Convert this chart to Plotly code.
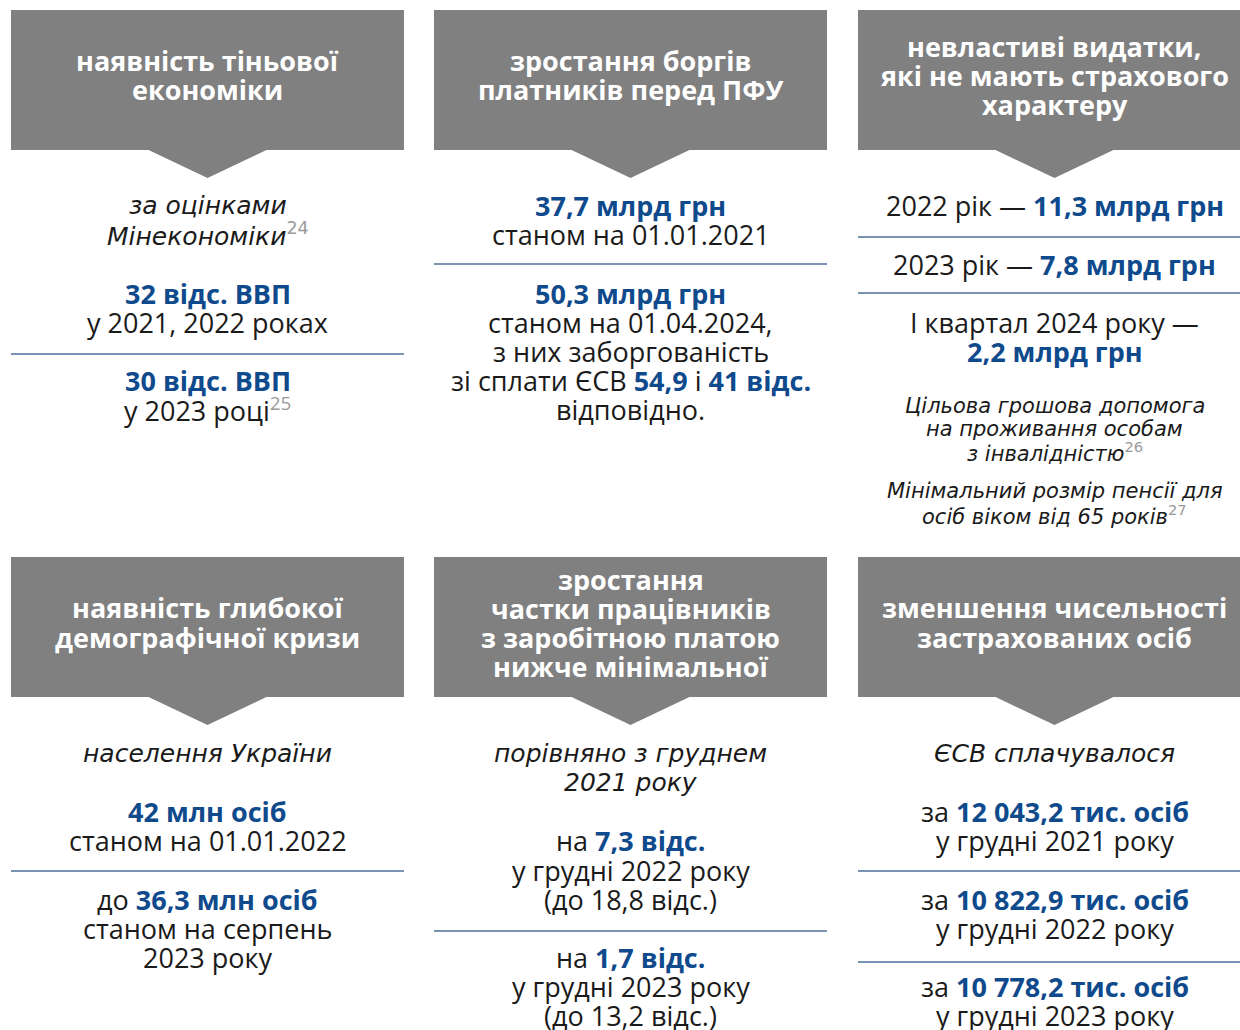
import plotly.graph_objects as go

W, H = 1240, 1030
GRAY = "#808080"
BLUE = "#0f4a8c"
LINE = "#4d6f9c"
TXT = "#1a1a1a"
FONT = "Open Sans"
IFONT = "DejaVu Sans"

# ---- content ----
header_titles = [
    ["наявність тіньової", "економіки"],
    ["зростання боргів", "платників перед ПФУ"],
    ["невластиві видатки,", "які не мають страхового", "характеру"],
    ["наявність глибокої", "демографічної кризи"],
    ["зростання", "частки працівників", "з заробітною платою", "нижче мінімальної"],
    ["зменшення чисельності", "застрахованих осіб"],
]

def B(s):
    return f"<b><span style='color:{BLUE}'>{s}</span></b>"

def I(s):
    return f"<i>{s}</i>"

def SUP(n):
    return f"<sup><span style='color:#9a9a9a'>{n}</span></sup>"

panel_text = [
    [I("за оцінками"), I("Мінекономіки") + SUP("24"), B("32 відс. ВВП"), "у 2021, 2022 роках",
     B("30 відс. ВВП"), "у 2023 році" + SUP("25")],
    [B("37,7 млрд грн"), "станом на 01.01.2021", B("50,3 млрд грн"), "станом на 01.04.2024,",
     "з них заборгованість", "зі сплати ЄСВ " + B("54,9") + " і " + B("41 відс."), "відповідно."],
    ["2022 рік — " + B("11,3 млрд грн"), "2023 рік — " + B("7,8 млрд грн"),
     "І квартал 2024 року —", B("2,2 млрд грн")],
    [I("населення України"), B("42 млн осіб"), "станом на 01.01.2022", "до " + B("36,3 млн осіб"),
     "станом на серпень", "2023 року"],
    [I("порівняно з груднем"), I("2021 року"), "на " + B("7,3 відс."), "у грудні 2022 року",
     "(до 18,8 відс.)", "на " + B("1,7 відс."), "у грудні 2023 року", "(до 13,2 відс.)"],
    [I("ЄСВ сплачувалося"), "за " + B("12 043,2 тис. осіб"), "у грудні 2021 року",
     "за " + B("10 822,9 тис. осіб"), "у грудні 2022 року", "за " + B("10 778,2 тис. осіб"),
     "у грудні 2023 року"],
]

note_text = [
    [I("Цільова грошова допомога"), I("на проживання особам"), I("з інвалідністю") + SUP("26")],
    [I("Мінімальний розмір пенсії для"), I("осіб віком від 65 років") + SUP("27")],
]

# ---- layout ----
col_left = [11, 434, 858]
col_width = 393
row_box = [(10, 150), (557, 697)]
tri_half, tri_depth = 60, 28
header_y = [
    [60, 89], [60, 89], [46, 75, 104],
    [607, 637], [579, 608, 637, 666], [607, 637],
]
panel_y = [
    [205, 234, 293, 322, 380, 409],
    [205, 234, 293, 322, 351, 380, 409],
    [205, 264, 322, 351],
    [753, 811, 840, 899, 928, 957],
    [753, 782, 840, 870, 899, 957, 986, 1015],
    [753, 811, 840, 899, 928, 986, 1015],
]
sep_y = [[354], [264], [237, 293], [871], [931], [871, 962]]
note_y = [[406, 429, 452], [491, 515]]

fig = go.Figure()
fig.add_trace(go.Scatter(x=[0, W], y=[0, H], mode="markers", marker=dict(opacity=0), hoverinfo="skip"))

shapes, ann = [], []
for p in range(6):
    c, r = p % 3, p // 3
    x0 = col_left[c]
    x1 = x0 + col_width
    cx = (x0 + x1) / 2
    y0, y1 = row_box[r]
    shapes.append(dict(type="rect", x0=x0, x1=x1, y0=y0, y1=y1, fillcolor=GRAY, line=dict(width=0), layer="below"))
    shapes.append(dict(type="path",
                       path=f"M {cx - tri_half},{y1 - 0.5} L {cx + tri_half},{y1 - 0.5} L {cx},{y1 + tri_depth} Z",
                       fillcolor=GRAY, line=dict(width=0), layer="below"))
    for t, y in zip(header_titles[p], header_y[p]):
        ann.append(dict(x=cx, y=y, text=f"<b>{t}</b>", font=dict(family=FONT, size=27, color="white")))
    for t, y in zip(panel_text[p], panel_y[p]):
        if t.startswith("<i>"):
            f = dict(family=IFONT, size=25, color=TXT)
        else:
            f = dict(family=FONT, size=27, color=TXT)
        ann.append(dict(x=cx, y=y, text=t, font=f))
    for y in sep_y[p]:
        shapes.append(dict(type="line", x0=x0, x1=x1, y0=y, y1=y, line=dict(color=LINE, width=1.5)))

cx3 = col_left[2] + col_width / 2
for block, ys in zip(note_text, note_y):
    for t, y in zip(block, ys):
        ann.append(dict(x=cx3, y=y, text=t, font=dict(family=IFONT, size=21, color=TXT)))

for a in ann:
    a.update(xref="x", yref="y", showarrow=False, xanchor="center", yanchor="middle")

fig.update_layout(
    width=W, height=H, margin=dict(l=0, r=0, t=0, b=0),
    paper_bgcolor="white", plot_bgcolor="white",
    xaxis=dict(range=[0, W], visible=False, fixedrange=True),
    yaxis=dict(range=[H, 0], visible=False, fixedrange=True),
    shapes=shapes, annotations=ann, showlegend=False,
)
fig.write_html("out.html", config={"displayModeBar": False},
               post_script="document.body.style.margin='0';document.body.style.overflow='hidden';")
